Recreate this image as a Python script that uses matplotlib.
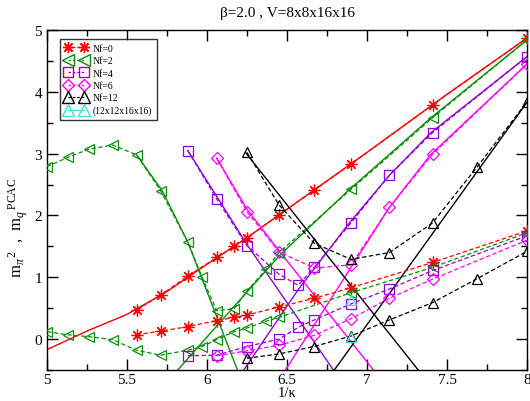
import matplotlib
matplotlib.use("Agg")
import matplotlib.pyplot as plt
from matplotlib.lines import Line2D

plt.rcParams['font.family'] = ['Liberation Serif', 'DejaVu Serif']
plt.rcParams['mathtext.fontset'] = 'custom'
plt.rcParams['mathtext.rm'] = 'Liberation Serif'
plt.rcParams['mathtext.it'] = 'Liberation Serif:italic'

# ---------------- data ----------------
# Nf=0 (red)
nf0_mpi_x = [5.56, 5.71, 5.88, 6.06, 6.17, 6.25, 6.45, 6.67, 6.90, 7.41, 8.0]
nf0_mpi_y = [0.47, 0.71, 1.02, 1.32, 1.50, 1.64, 2.01, 2.41, 2.83, 3.79, 4.87]
nf0_mq_x = [5.56, 5.71, 5.88, 6.06, 6.17, 6.25, 6.45, 6.67, 6.90, 7.41, 8.0]
nf0_mq_y = [0.07, 0.13, 0.20, 0.30, 0.35, 0.39, 0.52, 0.66, 0.83, 1.24, 1.75]
nf0_fit_x = [5.0, 5.25, 5.5, 5.75, 6.0, 6.25, 6.5, 7.0, 7.5, 8.0]
nf0_fit_y = [-0.17, 0.13, 0.40, 0.77, 1.21, 1.64, 2.10, 3.02, 3.96, 4.87]

# Nf=2 (green)
nf2_mpi_x = [5.0, 5.13, 5.26, 5.41, 5.56, 5.71, 5.88, 5.97, 6.06, 6.17, 6.25, 6.37, 6.45, 6.90, 7.41, 8.0]
nf2_mpi_y = [2.79, 2.94, 3.07, 3.14, 2.98, 2.40, 1.57, 1.00, 0.46, 0.49, 0.78, 1.13, 1.40, 2.42, 3.58, 4.84]
nf2_mq_x = [5.0, 5.13, 5.26, 5.41, 5.56, 5.71, 5.88, 5.97, 6.06, 6.17, 6.25, 6.37, 6.45, 6.90, 7.41, 8.0]
nf2_mq_y = [0.12, 0.07, 0.04, -0.01, -0.18, -0.26, -0.18, -0.12, -0.01, 0.12, 0.18, 0.29, 0.35, 0.75, 1.16, 1.72]
nf2_fit_up_x = [5.817, 6.17, 6.46, 6.89, 7.40, 8.0]
nf2_fit_up_y = [-0.5, 0.53, 1.37, 2.42, 3.58, 4.84]
nf2_fit_dn_x = [5.56, 5.72, 5.88, 6.19]
nf2_fit_dn_y = [2.98, 2.40, 1.57, -0.5]

# Nf=4 (violet)
nf4_mpi_x = [5.88, 6.06, 6.25, 6.45, 6.57, 6.67, 6.90, 7.14, 7.41, 8.0]
nf4_mpi_y = [3.05, 2.27, 1.51, 1.05, 0.87, 1.16, 1.88, 2.65, 3.34, 4.57]
nf4_mq_x = [5.88, 6.06, 6.25, 6.45, 6.57, 6.67, 6.90, 7.14, 7.41, 8.0]
nf4_mq_y = [-0.27, -0.26, -0.12, 0.0, 0.19, 0.31, 0.57, 0.81, 1.11, 1.67]
nf4_fit_up_x = [6.23, 6.57, 6.89, 7.14, 7.40, 8.0]
nf4_fit_up_y = [-0.5, 0.80, 1.88, 2.65, 3.34, 4.57]
nf4_fit_dn_x = [5.88, 6.25, 6.79]
nf4_fit_dn_y = [3.05, 1.53, -0.5]

# Nf=6 (magenta)
nf6_mpi_x = [6.06, 6.25, 6.45, 6.67, 6.90, 7.14, 7.41, 8.0]
nf6_mpi_y = [2.93, 2.06, 1.41, 1.15, 1.20, 2.13, 2.99, 4.45]
nf6_mq_x = [6.06, 6.25, 6.45, 6.67, 6.90, 7.14, 7.41, 8.0]
nf6_mq_y = [-0.27, -0.19, -0.10, 0.06, 0.33, 0.66, 0.97, 1.60]
nf6_fit_up_x = [6.49, 7.14, 7.40, 8.0]
nf6_fit_up_y = [-0.5, 2.13, 2.99, 4.45]
nf6_fit_dn_x = [6.06, 6.25, 6.45, 7.04]
nf6_fit_dn_y = [2.93, 2.10, 1.43, -0.5]

# Nf=12 (black)
nf12_mpi_x = [6.25, 6.45, 6.67, 6.90, 7.14, 7.41, 7.69, 8.0]
nf12_mpi_y = [3.02, 2.17, 1.55, 1.29, 1.40, 1.88, 2.79, 3.84]
nf12_mq_x = [6.25, 6.45, 6.67, 6.90, 7.14, 7.41, 7.69, 8.0]
nf12_mq_y = [-0.31, -0.24, -0.12, 0.05, 0.31, 0.59, 0.98, 1.42]
nf12_fit_up_x = [6.796, 8.0]
nf12_fit_up_y = [-0.5, 3.83]
nf12_fit_dn_x = [6.24, 7.32]
nf12_fit_dn_y = [3.02, -0.5]

# Nf=12 on 12x12x16x16 (cyan)
big_x = [6.90, 6.90]
big_y = [0.63, 0.04]

legend_labels = ['Nf=0', 'Nf=2', 'Nf=4', 'Nf=6', 'Nf=12', '(12x12x16x16)']
title = '\u03b2=2.0 , V=8x8x16x16'

# ---------------- styling ----------------
RED = '#ff0000'
GREEN = '#0a8f0a'
VIOLET = '#9400d3'
MAG = '#ff00ff'
BLACK = '#000000'
CYAN = '#40e0d0'
STAR = (8, 2, 0)

fig = plt.figure(figsize=(5.30, 4.02), dpi=100)
ax = fig.add_axes([47/530, 1-371/402, 480/530, 340/402])

dash = (3.5, 2.0)
ms = 7.5

def data(x, y, c, m, msz=ms):
    ax.plot(x, y, color=c, lw=0.9, marker=m, ms=msz, mfc='none', mec=c, mew=0.9,
            zorder=3, dashes=dash)

def fit(x, y, c):
    ax.plot(x, y, color=c, lw=1.0, ls='-', zorder=2)

fit(nf0_fit_x, nf0_fit_y, RED)
fit(nf2_fit_up_x, nf2_fit_up_y, GREEN)
fit(nf2_fit_dn_x, nf2_fit_dn_y, GREEN)
fit(nf4_fit_up_x, nf4_fit_up_y, VIOLET)
fit(nf4_fit_dn_x, nf4_fit_dn_y, VIOLET)
fit(nf6_fit_up_x, nf6_fit_up_y, MAG)
fit(nf6_fit_dn_x, nf6_fit_dn_y, MAG)
fit(nf12_fit_up_x, nf12_fit_up_y, BLACK)
fit(nf12_fit_dn_x, nf12_fit_dn_y, BLACK)

data(nf0_mpi_x, nf0_mpi_y, RED, STAR, 8.5)
data(nf0_mq_x, nf0_mq_y, RED, STAR, 8.5)
data(nf2_mpi_x, nf2_mpi_y, GREEN, '<')
data(nf2_mq_x, nf2_mq_y, GREEN, '<')
data(nf4_mpi_x, nf4_mpi_y, VIOLET, 's', 7)
data(nf4_mq_x, nf4_mq_y, VIOLET, 's', 7)
data(nf6_mpi_x, nf6_mpi_y, MAG, 'D', 6.5)
data(nf6_mq_x, nf6_mq_y, MAG, 'D', 6.5)
data(nf12_mpi_x, nf12_mpi_y, BLACK, '^')
data(nf12_mq_x, nf12_mq_y, BLACK, '^')
ax.plot(big_x, big_y, ls='none', marker='^', ms=ms, mfc='none', mec=CYAN, mew=0.9, zorder=4)

ax.set_xlim(5, 8)
ax.set_ylim(-0.5, 5)
ax.set_xticks([5, 5.5, 6, 6.5, 7, 7.5, 8])
ax.set_xticklabels(['5', '5.5', '6', '6.5', '7', '7.5', '8'])
ax.set_xticks([5.25, 5.75, 6.25, 6.75, 7.25, 7.75], minor=True)
ax.set_yticks([0, 1, 2, 3, 4, 5])
ax.set_yticks([-0.5, 0.5, 1.5, 2.5, 3.5, 4.5], minor=True)
ax.tick_params(which='both', direction='in', top=True, right=True, labelsize=11, width=1)
ax.tick_params(which='major', length=8)
ax.tick_params(which='minor', length=4)
ax.tick_params(axis='x', which='major', pad=2)
for s in ax.spines.values():
    s.set_linewidth(1.0)

ax.set_title(title, fontsize=11, pad=10)
ax.set_xlabel('1/\u03ba', fontsize=10.5, labelpad=0)
ax.set_ylabel(r'm$_{\pi}$$^{\,2}$  ,  m$_{q}$$^{\,\mathrm{PCAC}}$', fontsize=12)
ax.yaxis.set_label_coords(-0.036, 0.42)

handles = [
    Line2D([], [], color=RED, marker=STAR, ms=8, mfc='none', lw=0.9, dashes=(2, 1.5)),
    Line2D([], [], color=GREEN, marker='<', ms=8, mfc='none', lw=0.9, dashes=(2, 1.5)),
    Line2D([], [], color=VIOLET, marker='s', ms=7, mfc='none', lw=0.9, dashes=(2, 1.5)),
    Line2D([], [], color=MAG, marker='D', ms=6.5, mfc='none', lw=0.9, dashes=(2, 1.5)),
    Line2D([], [], color=BLACK, marker='^', ms=8, mfc='none', lw=0.9, dashes=(2, 1.5)),
    Line2D([], [], color=CYAN, marker='^', ms=8, mfc='none', lw=0.9),
]
leg = ax.legend(handles, legend_labels, loc='upper left', bbox_to_anchor=(0.028, 0.974),
                fontsize=7, frameon=True, fancybox=False, edgecolor='black',
                handlelength=2.2, handletextpad=0.6, labelspacing=0.35, borderpad=0.5,
                numpoints=2, borderaxespad=0)
leg.get_frame().set_linewidth(1.0)

fig.savefig('out.png', dpi=100)
